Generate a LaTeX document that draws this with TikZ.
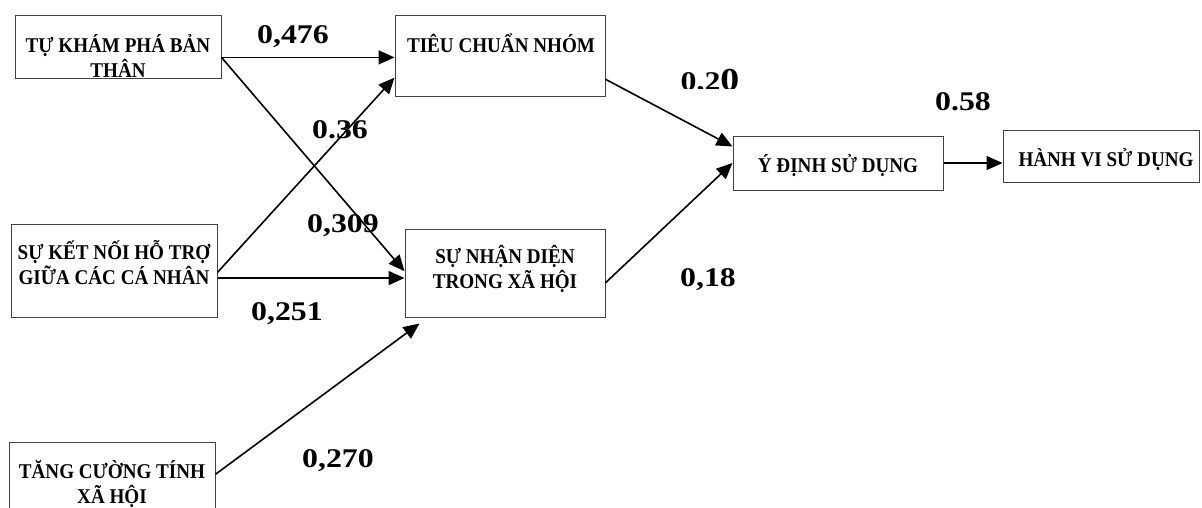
\documentclass[tikz,border=0pt]{standalone}
\usepackage{fontspec}
\setmainfont{Liberation Serif}
\newfontfamily\boxfont[FakeStretch=0.91]{Liberation Serif}
\newfontfamily\numfont[FakeStretch=1.18]{Liberation Serif}
\usetikzlibrary{arrows.meta, positioning, calc}

\begin{document}
\begin{tikzpicture}[
  x=1pt, y=-1pt,
  box/.style={draw=black!75, line width=1pt, inner sep=0pt},
  lbl/.style={font=\boxfont\fontsize{21}{25}\selectfont\bfseries, align=center, inner sep=0pt},
  coef/.style={font=\numfont\fontsize{27}{30}\selectfont\bfseries, inner sep=0pt, anchor=base},
  link/.style={-{Triangle[length=16pt,width=14pt]}, line width=1.6pt}
]
  \useasboundingbox (0,0) rectangle (1202,507);
  \clip (0,0) rectangle (1202,507);

  % boxes
  \node[box, minimum width=206, minimum height=63] (kp) at (118,46.5) {};
  \node[box, minimum width=210, minimum height=81] (tc) at (500,55.5) {};
  \node[box, minimum width=206, minimum height=93] (kn) at (114,270.5) {};
  \node[box, minimum width=200, minimum height=88] (nd) at (505,273) {};
  \node[box, minimum width=206, minimum height=90] (xh) at (112,487) {};
  \node[box, minimum width=210, minimum height=54] (yd) at (838,163) {};
  \node[box, minimum width=196, minimum height=52] (hv) at (1101,156) {};

  \node[lbl] (kpt) at (118,55.5) {TỰ KHÁM PHÁ BẢN\\THÂN};
  \node[lbl, anchor=base] (tct) at (501,52) {TIÊU CHUẨN NHÓM};
  \node[lbl] (knt) at (114,263) {SỰ KẾT NỐI HỖ TRỢ\\GIỮA CÁC CÁ NHÂN};
  \node[lbl] (ndt) at (505,269) {SỰ NHẬN DIỆN\\TRONG XÃ HỘI};
  \node[lbl] (xht) at (112,483.5) {TĂNG CƯỜNG TÍNH\\XÃ HỘI};
  \node[lbl, anchor=base] (ydt) at (838,172) {Ý ĐỊNH SỬ DỤNG};
  \node[lbl, anchor=base] (hvt) at (1106,166) {HÀNH VI SỬ DỤNG};

  % paths
  \coordinate (kpr) at ($(kp.north east)!.67!(kp.south east)$);
  \coordinate (knr) at ($(kn.north east)!.52!(kn.south east)$);
  \coordinate (knm) at ($(kn.north east)!.58!(kn.south east)$);
  \coordinate (xhr) at ($(xh.north east)!.36!(xh.south east)$);
  \draw[link] (kpr) -- (kpr -| tc.west);
  \draw[link] (kpr) -- ($(nd.north west)!.48!(nd.south west)$);
  \draw[link] (knr) -- ($(tc.north west)!.77!(tc.south west)$);
  \draw[link] (knm) -- (knm -| nd.west);
  \draw[link] (xhr) -- ($(nd.south west)+(15,6)$);
  \draw[link] ($(tc.north east)!.79!(tc.south east)$) -- ($(yd.north west)!.2!(yd.south west)$);
  \draw[link] ($(nd.north east)!.61!(nd.south east)$) -- (yd.west);
  \draw[link] (yd.east) -- (yd.east -| hv.west);

  % coefficients
  \node[coef] (c1) at (293,43) {0,476};
  \node[coef] (c2) at (340,138) {0.36};
  \node[coef] (c3) at (343,232) {0,309};
  \node[coef] (c4) at (287,320) {0,251};
  \node[coef] (c5) at (338,467) {0,270};
  \node[coef] (c7) at (708,286) {0,18};
  \node[coef] (c8) at (963,110) {0.58};
  \begin{scope}
    \clip (650,60) rectangle (780,88);
    \node[coef] (c6) at (710,90) {0,2{\fontsize{32}{32}\selectfont 0}};
  \end{scope}
\end{tikzpicture}
\end{document}
